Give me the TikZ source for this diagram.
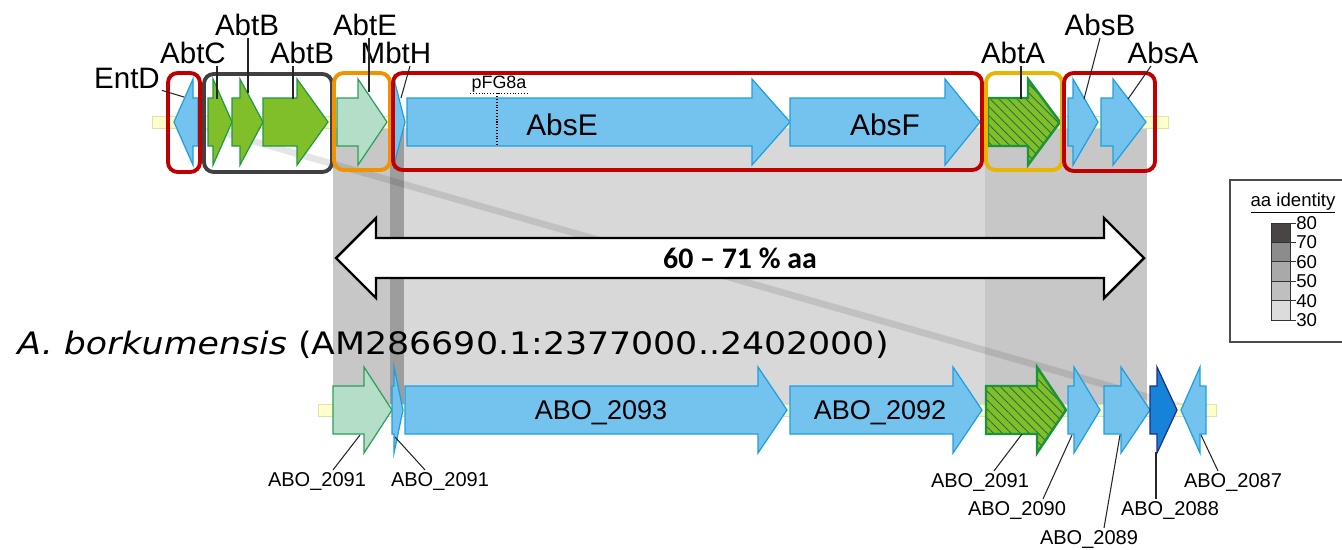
\documentclass[tikz,border=0pt]{standalone}
\usepackage{fontspec}
\setmainfont{Liberation Sans}
\newfontfamily\verdanafont{DejaVu Sans}
\newfontfamily\calibrifont{Carlito}
\usepackage{tikz}
\usetikzlibrary{positioning, arrows.meta, patterns.meta, calc}

\definecolor{abblue}{HTML}{73C3EE}
\definecolor{abblueline}{HTML}{1E9FE0}
\definecolor{abgreen}{HTML}{80BF2A}
\definecolor{abgreenline}{HTML}{1F9A45}
\definecolor{abmint}{HTML}{B5DEC8}
\definecolor{abmintline}{HTML}{2E9E5A}
\definecolor{abhatch}{HTML}{2F6E3A}
\definecolor{abhatchline}{HTML}{1C9438}
\definecolor{abdark}{HTML}{1683D8}
\definecolor{abdarkline}{HTML}{1C2F8C}
\definecolor{abback}{HTML}{FFFFCC}
\definecolor{abbackline}{HTML}{E2E2A6}
\definecolor{boxred}{HTML}{C00000}
\definecolor{boxgrey}{HTML}{404040}
\definecolor{boxorange}{HTML}{F39200}
\definecolor{boxgold}{HTML}{E8B600}
\definecolor{shademid}{HTML}{D8D8D8}
\definecolor{shadeside}{HTML}{C7C7C7}
\definecolor{shadedark}{HTML}{9D9D9D}
\definecolor{leg80}{HTML}{4A4545}
\definecolor{leg70}{HTML}{8C8C8C}
\definecolor{leg60}{HTML}{A9A9A9}
\definecolor{leg50}{HTML}{BFBFBF}
\definecolor{leg40}{HTML}{DCDCDC}

% gene arrows: style, start, head base, tip, centre line
\newcommand{\genefwd}[5]{\draw[#1] (#2,#5-24) -- (#3,#5-24) -- (#3,#5-43) -- (#4,#5) -- (#3,#5+43) -- (#3,#5+24) -- (#2,#5+24) -- cycle;}
\newcommand{\generev}[5]{\draw[#1] (#2,#5) -- (#3,#5-43) -- (#3,#5-24) -- (#4,#5-24) -- (#4,#5+24) -- (#3,#5+24) -- (#3,#5+43) -- cycle;}

\begin{document}
\begin{tikzpicture}[
    x=0.02cm,
    y=-0.02cm,
    every node/.style={align=center, inner sep=1pt},
    gene_blue/.style={draw=abblueline, fill=abblue, line width=0.7pt},
    gene_green/.style={draw=abgreenline, fill=abgreen, line width=0.7pt},
    gene_mint/.style={draw=abmintline, fill=abmint, line width=0.7pt},
    gene_hatch/.style={
        preaction={fill=abgreen},
        pattern={Lines[angle=-45, distance=3.6pt, line width=0.5pt]},
        pattern color=abhatch,
        draw=abhatchline,
        line width=1.4pt
    },
    gene_dark/.style={draw=abdarkline, fill=abdark, line width=0.7pt},
    backbone/.style={draw=abbackline, fill=abback, line width=0.5pt},
    box_frame/.style={rounded corners=5.5pt, line width=2.2pt},
    leader/.style={draw=black!85, line width=0.6pt},
    gene_lbl/.style={font=\fontsize{16.8}{19}\selectfont},
    top_inner/.style={font=\fontsize{17}{19}\selectfont},
    inner_lbl/.style={font=\fontsize{15.4}{18}\selectfont},
    small_lbl/.style={font=\fontsize{11.4}{13}\selectfont}
]
    \useasboundingbox (0,0) rectangle (1342,549);

    % homology shading
    \fill[shadeside] (333,122) rectangle (390,410);
    \fill[shadedark] (390,122) rectangle (404,410);
    \fill[shademid] (404,122) rectangle (985,410);
    \fill[shadeside] (985,122) rectangle (1147,410);
    \fill[black, opacity=0.1] (174,122) -- (198,122) -- (1206,410) -- (1181,410) -- cycle;

    % backbones
    \draw[backbone] (152,116) rectangle (1168,128);
    \draw[backbone] (318,404) rectangle (1216,416);

    % top cluster
    \generev{gene_blue}{174}{193}{198}{122}
    \genefwd{gene_green}{208}{213}{232}{122}
    \genefwd{gene_green}{232}{240}{263}{122}
    \genefwd{gene_green}{263}{297}{328}{122}
    \genefwd{gene_mint}{337}{358}{387}{122}
    \genefwd{gene_blue}{392}{394}{405}{122}
    \genefwd{gene_blue}{407}{752}{790}{122}
    \genefwd{gene_blue}{790}{945}{980}{122}
    \genefwd{gene_hatch}{988}{1028}{1060}{122}
    \genefwd{gene_blue}{1068}{1073}{1098}{122}
    \genefwd{gene_blue}{1101}{1113}{1146}{122}

    % A. borkumensis cluster
    \genefwd{gene_mint}{333}{364}{392}{410}
    \genefwd{gene_blue}{392}{394}{403}{410}
    \genefwd{gene_blue}{405}{758}{787}{410}
    \genefwd{gene_blue}{790}{953}{982}{410}
    \genefwd{gene_hatch}{986}{1037}{1066}{410}
    \genefwd{gene_blue}{1068}{1074}{1100}{410}
    \genefwd{gene_blue}{1104}{1121}{1150}{410}
    \genefwd{gene_dark}{1150}{1157}{1177}{410}
    \generev{gene_blue}{1181}{1200}{1206}{410}

    % frames
    \draw[box_frame, boxred] (168,73) rectangle (200,172);
    \draw[box_frame, boxgrey] (204,74) rectangle (332,172);
    \draw[box_frame, boxorange] (334,73) rectangle (390,170);
    \draw[box_frame, boxred] (393,73) rectangle (982,170);
    \draw[box_frame, boxgold] (986,73) rectangle (1062,170);
    \draw[box_frame, boxred] (1064,73) rectangle (1155,171);

    % gene names, top
    \node[gene_lbl] (entd) at (127,78) {EntD};
    \node[gene_lbl] (abtc) at (193,53) {AbtC};
    \node[gene_lbl] (abtb1) at (247,25) {AbtB};
    \node[gene_lbl] (abtb2) at (302,53) {AbtB};
    \node[gene_lbl] (abte) at (365,25) {AbtE};
    \node[gene_lbl] (mbth) at (396,53) {MbtH};
    \node[gene_lbl] (abta) at (1013,53) {AbtA};
    \node[gene_lbl] (absb) at (1100,25) {AbsB};
    \node[gene_lbl] (absa) at (1163,53) {AbsA};
    \node[top_inner] (abse) at (562,125) {AbsE};
    \node[top_inner] (absf) at (885,125) {AbsF};
    \node[font=\fontsize{10.2}{12}\selectfont, inner sep=0.5pt] (pfg) at (499,84) {pFG8a};

    \coordinate (entd_g) at (184,97);
    \coordinate (abtc_g) at (217,99);
    \coordinate (abtb1_g) at (248,93);
    \coordinate (abtb2_g) at (293,99);
    \coordinate (abte_g) at (369,92);
    \coordinate (mbth_g) at (401,98);
    \coordinate (abta_g) at (1021,99);
    \coordinate (absb_g) at (1084,99);
    \coordinate (absa_g) at (1128,99);
    \coordinate (pfg_g) at (497,146);

    \draw[leader] (entd.south east) -- (entd_g);
    \draw[leader] (abtc.south -| abtc_g) -- (abtc_g);
    \draw[leader] (abtb1.south -| abtb1_g) -- (abtb1_g);
    \draw[leader] (abtb2.south -| abtb2_g) -- (abtb2_g);
    \draw[leader] (abte.south -| abte_g) -- (abte_g);
    \draw[leader] ($(mbth.south)+(14,0)$) -- (mbth_g);
    \draw[leader] (abta.south -| abta_g) -- (abta_g);
    \draw[leader] (absb.south) -- (absb_g);
    \draw[leader] ($(absa.south)+(-12,0)$) -- (absa_g);
    \draw[densely dotted, line width=0.6pt] (pfg.south west) -- (pfg.south east);
    \draw[densely dotted, line width=0.6pt] (pfg.south -| pfg_g) -- (pfg_g);

    % gene names, bottom
    \node[inner_lbl] (o2093) at (601,413) {ABO\_2093};
    \node[inner_lbl] (o2092) at (880,413) {ABO\_2092};
    \node[small_lbl] (o2091a) at (317,481) {ABO\_2091};
    \node[small_lbl] (o2091b) at (440,481) {ABO\_2091};
    \node[small_lbl] (o2091c) at (980,482) {ABO\_2091};
    \node[small_lbl] (o2090) at (1017,510) {ABO\_2090};
    \node[small_lbl] (o2089) at (1089,539) {ABO\_2089};
    \node[small_lbl] (o2088) at (1170,510) {ABO\_2088};
    \node[small_lbl] (o2087) at (1233,482) {ABO\_2087};

    \coordinate (o2091a_g) at (360,435);
    \coordinate (o2091b_g) at (395,437);
    \coordinate (o2091c_g) at (1022,434);
    \coordinate (o2090_g) at (1072,435);
    \coordinate (o2089_g) at (1120,435);
    \coordinate (o2088_g) at (1156,452);
    \coordinate (o2087_g) at (1201,435);

    \draw[leader] ($(o2091a.north)+(16,0)$) -- (o2091a_g);
    \draw[leader] ($(o2091b.north)+(-15,0)$) -- (o2091b_g);
    \draw[leader] ($(o2091c.north)+(14,0)$) -- (o2091c_g);
    \draw[leader] ($(o2090.north)+(26,0)$) -- (o2090_g);
    \draw[leader] ($(o2089.north)+(15,0)$) -- (o2089_g);
    \draw[leader] (o2088.north -| o2088_g) -- (o2088_g);
    \draw[leader] ($(o2087.north)+(-15,0)$) -- (o2087_g);

    % species
    \node[anchor=base west, inner sep=0pt, font=\verdanafont\fontsize{17.6}{20}\selectfont] (species) at (17,354)
        {\scalebox{1.125}[1]{\textit{A. borkumensis} (AM286690.1:2377000..2402000)}};

    % identity span
    \draw[line width=1.4pt, fill=white, line join=miter] (336,258) -- (376,218) -- (376,238) -- (1104,238) -- (1104,218)
        -- (1144,258) -- (1104,298) -- (1104,278) -- (376,278) -- (376,298) -- cycle;
    \node[font=\calibrifont\bfseries\fontsize{17}{20}\selectfont] (span) at (740,258) {60 – 71 \% aa};

    % legend
    \draw[black!70, line width=0.6pt] (1342,180) -- (1230,180) -- (1230,342) -- (1342,342);
    \node[font=\fontsize{10.6}{12}\selectfont, inner sep=0pt] (legtitle) at (1293,203) {\underline{aa identity}};
    \foreach \c [count=\i from 0] in {leg80,leg70,leg60,leg50,leg40}
        \fill[fill=\c] (1271,223+19.4*\i) rectangle (1290,242.4+19.4*\i);
    \draw[black!80, line width=0.5pt] (1271,223) rectangle (1290,320);
    \foreach \v [count=\i from 0] in {80,70,60,50,40,30} {
        \draw[black!80, line width=0.5pt] (1271,223+19.4*\i) -- (1296,223+19.4*\i);
        \node[font=\fontsize{10.6}{12}\selectfont, anchor=west, inner sep=0pt] (tick\v) at (1296,223+19.4*\i) {\v};
    }
\end{tikzpicture}
\end{document}
